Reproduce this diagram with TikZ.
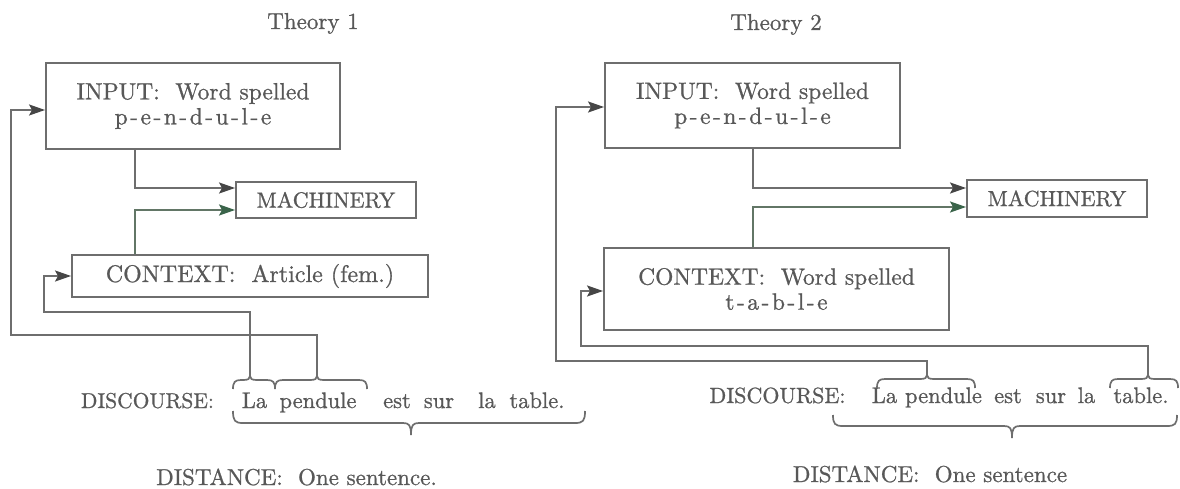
\documentclass[tikz,border=0pt]{standalone}
\usepackage{fontspec}
\setmainfont{lmroman10-regular.otf}[
  BoldFont=lmroman10-regular.otf,
  BoldFeatures={FakeBold=0.9}]
\usetikzlibrary{arrows.meta}

\definecolor{ink}{RGB}{88,88,88}
\definecolor{rule}{RGB}{110,110,110}
\definecolor{tipgray}{RGB}{70,70,70}
\definecolor{tipgreen}{RGB}{58,100,74}
\definecolor{rulegreen}{RGB}{98,118,102}

% font size helper (slightly emboldened face) and spaced hyphen for spelled-out words
\newcommand\tsize[1]{\fontsize{#1}{25}\selectfont\bfseries}
\newcommand\hy{\kern2.5pt-\kern2.5pt}

% curly brace opening downwards (tip up): xa, xtip, xb, horizontal y, hook depth
\newcommand\upbrace[5]{%
  \draw[brace] (#1,#4+#5) .. controls (#1,#4+2) and (#1+2,#4) .. (#1+8,#4)
    -- (#2-7,#4) .. controls (#2-2,#4) and (#2,#4-1) .. (#2,#4-4)
    .. controls (#2,#4-1) and (#2+2,#4) .. (#2+7,#4)
    -- (#3-8,#4) .. controls (#3-2,#4) and (#3,#4+2) .. (#3,#4+#5);}
% curly brace opening upwards (tip down): xa, xtip, xb, horizontal y, hook height
\newcommand\downbrace[5]{%
  \draw[brace] (#1,#4-#5) .. controls (#1,#4-2) and (#1+2,#4) .. (#1+10,#4)
    -- (#2-8,#4) .. controls (#2-2,#4) and (#2,#4+2) .. (#2,#4+12)
    .. controls (#2,#4+2) and (#2+2,#4) .. (#2+8,#4)
    -- (#3-10,#4) .. controls (#3-2,#4) and (#3,#4-2) .. (#3,#4-#5);}

\begin{document}
\begin{tikzpicture}[x=1pt,y=-1pt,
  every node/.style={text=ink, inner sep=0pt},
  box/.style={draw=rule, line width=1.9pt, align=center},
  lbl/.style={anchor=base},
  wire/.style={draw=rule, line width=1.9pt},
  feed/.style={wire, -{Stealth[length=16pt,width=11pt,inset=3pt,color=tipgray]}},
  ctxfeed/.style={draw=rulegreen, line width=1.9pt,
    -{Stealth[length=16pt,width=11pt,inset=3pt,color=tipgreen]}},
  brace/.style={draw=rule, line width=1.7pt}]

\useasboundingbox (0,0) rectangle (1180,489);

% ---------- titles ----------
\node[lbl,font=\tsize{23}] (title1) at (313,29) {Theory 1};
\node[lbl,font=\tsize{23}] (title2) at (776,30) {Theory 2};

% ---------- theory 1 ----------
\node[box,minimum width=294pt,minimum height=86pt,font=\tsize{23.5}] (in1) at (193,106)
  {INPUT:\ \ Word spelled\\ p\hy e\hy n\hy d\hy u\hy l\hy e};
\node[box,minimum width=180pt,minimum height=36pt,font=\tsize{22}] (m1) at (326,200) {MACHINERY};
\node[box,minimum width=356pt,minimum height=42pt,font=\tsize{24}] (c1) at (250,276)
  {CONTEXT:\ \ Article (fem.)};

\node[lbl,font=\tsize{21.5}] (d1) at (147.5,408) {DISCOURSE:};
\node[lbl,font=\tsize{22.5}] (s1a) at (254.5,408) {La};
\node[lbl,font=\tsize{22.5}] (s1b) at (318,408) {pendule};
\node[lbl,font=\tsize{22.5}] (s1c) at (397,408) {est};
\node[lbl,font=\tsize{22.5}] (s1d) at (439,408) {sur};
\node[lbl,font=\tsize{22.5}] (s1e) at (487,408) {la};
\node[lbl,font=\tsize{22.5}] (s1f) at (537,408) {table.};
\node[lbl,font=\tsize{23}] (dist1) at (296.5,485) {DISTANCE:\ \ One sentence.};

\upbrace{233}{250}{275}{380}{9}
\upbrace{275}{317}{367}{380}{9}
\downbrace{233}{411}{585}{423}{12}
\coordinate (k1a) at (250,376);
\coordinate (k1b) at (317,376);

\draw[feed] (in1.south -| 135,0) |- (m1.west |- 0,188);
\draw[ctxfeed] (c1.north -| 135,0) |- (m1.west |- 0,210);
\draw[feed] (k1b) |- (11,335) |- (in1.west |- 0,110);
\draw[feed] (k1a) |- (44,312) |- (c1.west |- 0,276);

% ---------- theory 2 ----------
\node[box,minimum width=295pt,minimum height=85pt,font=\tsize{23.5}] (in2) at (752.5,105.5)
  {INPUT:\ \ Word spelled\\ p\hy e\hy n\hy d\hy u\hy l\hy e};
\node[box,minimum width=180pt,minimum height=37pt,font=\tsize{22}] (m2) at (1057,198.5) {MACHINERY};
\node[box,minimum width=345pt,minimum height=82pt,font=\tsize{23.5}] (c2) at (776.5,289)
  {CONTEXT:\ \ Word spelled\\ t\hy a\hy b\hy l\hy e};

\node[lbl,font=\tsize{22}] (d2) at (777.5,403) {DISCOURSE:};
\node[lbl,font=\tsize{22.5}] (s2a) at (884.5,403) {La};
\node[lbl,font=\tsize{22.5}] (s2b) at (943.5,403) {pendule};
\node[lbl,font=\tsize{22.5}] (s2c) at (1008,403) {est};
\node[lbl,font=\tsize{22.5}] (s2d) at (1051,403) {sur};
\node[lbl,font=\tsize{22.5}] (s2e) at (1086.5,403) {la};
\node[lbl,font=\tsize{22.5}] (s2f) at (1141,403) {table.};
\node[lbl,font=\tsize{23}] (dist2) at (930,482) {DISTANCE:\ \ One sentence};

\upbrace{877}{927}{975}{379}{9}
\upbrace{1110}{1148}{1178}{379}{9}
\downbrace{833}{1012}{1177}{426}{11}
\coordinate (k2a) at (927,375);
\coordinate (k2b) at (1148,375);

\draw[feed] (in2.south -| 753,0) |- (m2.west |- 0,188);
\draw[ctxfeed] (c2.north -| 753,0) |- (m2.west |- 0,207);
\draw[feed] (k2a) |- (556,361) |- (in2.west |- 0,107);
\draw[feed] (k2b) |- (581,346) |- (c2.west |- 0,291);

\end{tikzpicture}
\end{document}
